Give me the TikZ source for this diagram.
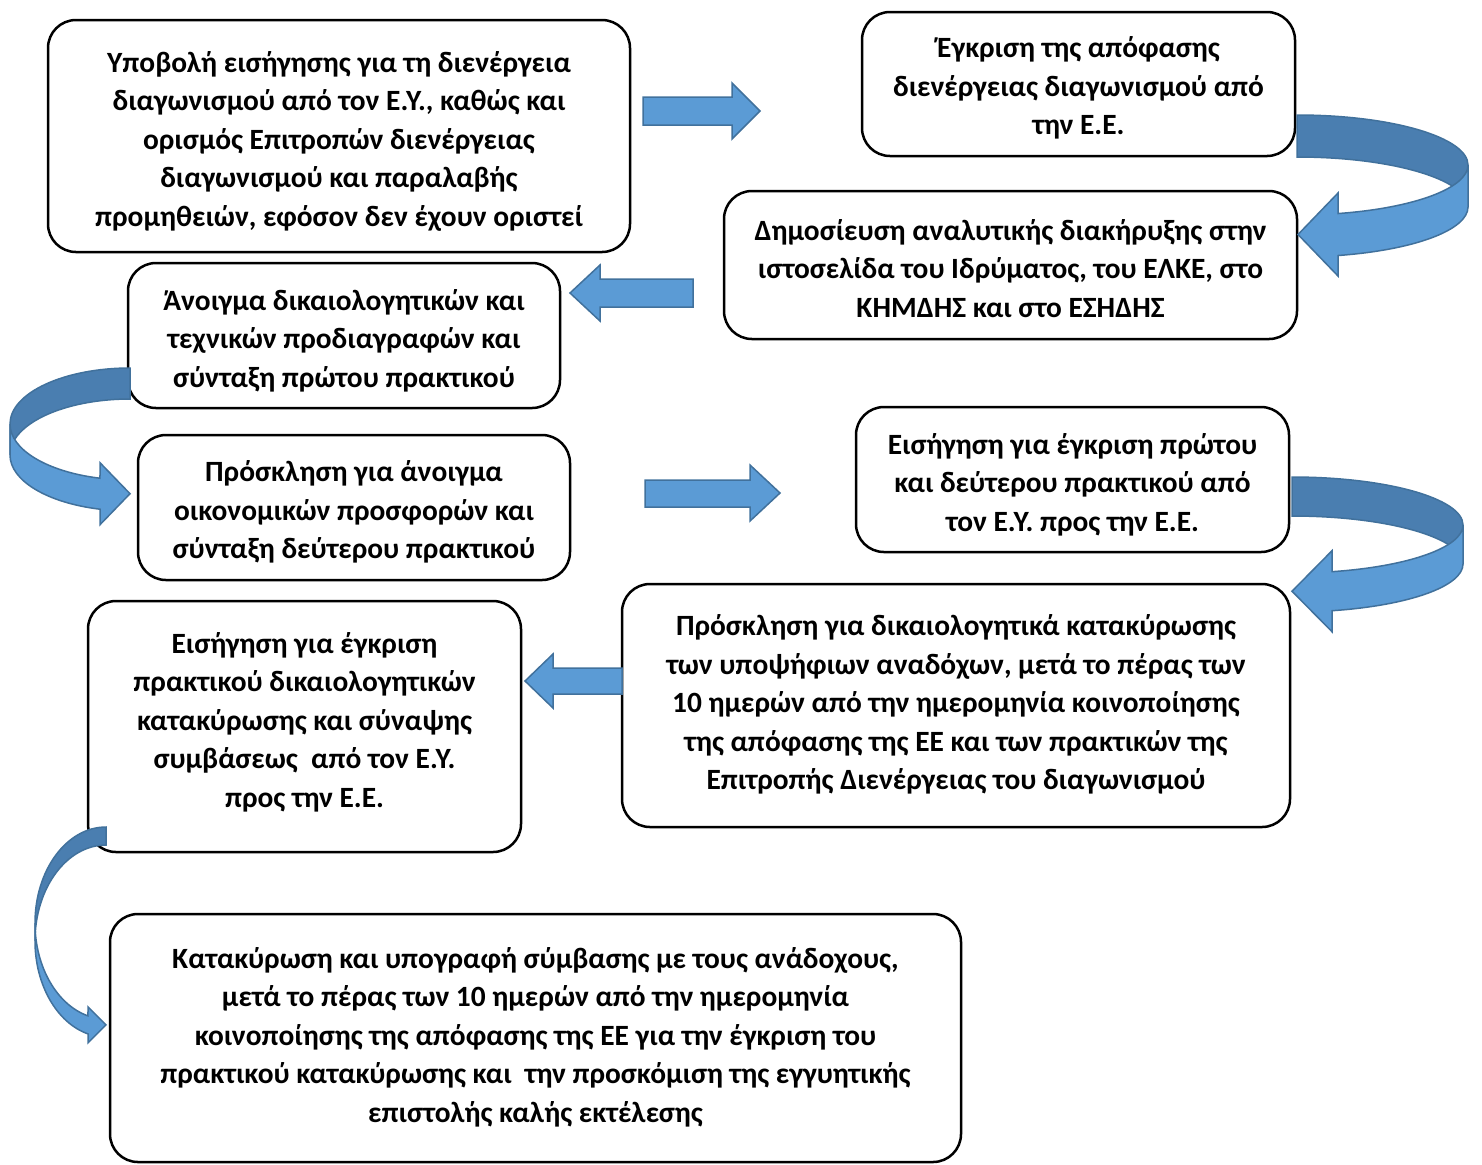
\documentclass[tikz,border=0pt]{standalone}
\usepackage{fontspec}
\setmainfont{Carlito}
\begin{document}
\begin{tikzpicture}[x=0.5pt,y=-0.5pt,
  box/.style={draw, line width=1.25pt, rounded corners=14pt, fill=white, inner sep=0pt},
  txt/.style={align=center, inner sep=0pt, font=\fontsize{14.7}{19.25}\selectfont\bfseries},
  barrow/.style={fill=arrowlight, draw=arrowline, line width=0.75pt, line join=miter},
  backface/.style={fill=arrowdark, draw=arrowline, line width=0.75pt},
  frontface/.style={fill=arrowlight, draw=arrowline, line width=0.75pt, line join=miter}]
\definecolor{arrowlight}{HTML}{5B9BD5}
\definecolor{arrowdark}{HTML}{4A7EB0}
\definecolor{arrowline}{HTML}{41719C}
\useasboundingbox (0,0) rectangle (1482,1164);

% process steps (frames)
\node[box, minimum width=291pt, minimum height=116pt] (submit) at (339,136) {};
\node[box, minimum width=216.5pt, minimum height=72pt] (approve) at (1078.5,84) {};
\node[box, minimum width=286.5pt, minimum height=74pt] (publish) at (1010.5,265) {};
\node[box, minimum width=216pt, minimum height=72.5pt] (open) at (344,335.5) {};
\node[box, minimum width=216pt, minimum height=72.5pt] (offers) at (354,507.5) {};
\node[box, minimum width=216.5pt, minimum height=72.5pt] (minutes) at (1072.5,479.5) {};
\node[box, minimum width=334pt, minimum height=121.5pt] (docs) at (956,705.5) {};
\node[box, minimum width=216.5pt, minimum height=125.5pt] (award) at (304.5,726.5) {};
\node[box, minimum width=425.5pt, minimum height=124pt] (sign) at (535.5,1038) {};

% process steps (texts)
\node[txt] (submit-t) at ([shift={(0,5)}]submit.center)
  {Υποβολή εισήγησης για τη διενέργεια\\διαγωνισμού από τον Ε.Υ., καθώς και\\ορισμός Επιτροπών διενέργειας\\διαγωνισμού και παραλαβής\\προμηθειών, εφόσον δεν έχουν οριστεί};
\node[txt] (approve-t) at ([shift={(0,4)}]approve.center)
  {Έγκριση της απόφασης\\διενέργειας διαγωνισμού από\\την Ε.Ε.};
\node[txt] (publish-t) at ([shift={(0,3.5)}]publish.center)
  {Δημοσίευση αναλυτικής διακήρυξης στην\\ιστοσελίδα του Ιδρύματος, του ΕΛΚΕ, στο\\ΚΗΜΔΗΣ και στο ΕΣΗΔΗΣ};
\node[txt] (open-t) at ([shift={(0,5)}]open.center)
  {Άνοιγμα δικαιολογητικών και\\τεχνικών προδιαγραφών και\\σύνταξη πρώτου πρακτικού};
\node[txt] (offers-t) at ([shift={(0,4.5)}]offers.center)
  {Πρόσκληση για άνοιγμα\\οικονομικών προσφορών και\\σύνταξη δεύτερου πρακτικού};
\node[txt] (minutes-t) at ([shift={(0,5)}]minutes.center)
  {Εισήγηση για έγκριση πρώτου\\και δεύτερου πρακτικού από\\τον Ε.Υ. προς την Ε.Ε.};
\node[txt] (docs-t) at ([shift={(0,-1)}]docs.center)
  {Πρόσκληση για δικαιολογητικά κατακύρωσης\\των υποψήφιων αναδόχων, μετά το πέρας των\\10 ημερών από την ημερομηνία κοινοποίησης\\της απόφασης της ΕΕ και των πρακτικών της\\Επιτροπής Διενέργειας του διαγωνισμού};
\node[txt] (award-t) at ([shift={(0,-4.5)}]award.center)
  {Εισήγηση για έγκριση\\πρακτικού δικαιολογητικών\\κατακύρωσης και σύναψης\\συμβάσεως\ \ από τον Ε.Υ.\\προς την Ε.Ε.};
\node[txt] (sign-t) at ([shift={(0,-1)}]sign.center)
  {Κατακύρωση και υπογραφή σύμβασης με τους ανάδοχους,\\μετά το πέρας των 10 ημερών από την ημερομηνία\\κοινοποίησης της απόφασης της ΕΕ για την έγκριση του\\πρακτικού κατακύρωσης και\ \ την προσκόμιση της εγγυητικής\\επιστολής καλής εκτέλεσης};

% straight block arrows
\draw[barrow] (643,97) -- (732,97) -- (732,83) -- (760,111) -- (732,139) -- (732,125) -- (643,125) -- cycle;
\draw[barrow] (693,279) -- (600,279) -- (600,265) -- (570,293) -- (600,321) -- (600,307) -- (693,307) -- cycle;
\draw[barrow] (645,480) -- (750,480) -- (750,465) -- (780,493) -- (750,521) -- (750,507) -- (645,507) -- cycle;
\draw[barrow] (622,668) -- (553,668) -- (553,654) -- (525,681) -- (553,708) -- (553,694) -- (622,694) -- cycle;

% curved ribbon arrow: approval -> publication
\draw[backface] (1297,115) arc[start angle=-90, end angle=0, x radius=171, y radius=50]
  -- (1468,207) arc[start angle=0, end angle=-90, x radius=171, y radius=50] -- cycle;
\draw[frontface] (1468,165) arc[start angle=0, end angle=76.13, x radius=171, y radius=50]
  -- (1338,193) -- (1298,234.5) -- (1338,276) -- (1338,255.5)
  arc[start angle=76.13, end angle=0, x radius=171, y radius=50] -- cycle;

% curved ribbon arrow: first minutes -> financial offers
\draw[backface] (130,368) arc[start angle=-90, end angle=-180, x radius=120, y radius=56]
  -- (10,455) arc[start angle=-180, end angle=-90, x radius=120, y radius=56] -- cycle;
\draw[frontface] (10,424) arc[start angle=180, end angle=104.48, x radius=120, y radius=56]
  -- (100,462.7) -- (130,493.7) -- (100,524.7) -- (100,509.2)
  arc[start angle=104.48, end angle=180, x radius=120, y radius=56] -- cycle;

% curved ribbon arrow: minutes approval -> documents
\draw[backface] (1292,477) arc[start angle=-90, end angle=0, x radius=171, y radius=48]
  -- (1463,564) arc[start angle=0, end angle=-90, x radius=171, y radius=48] -- cycle;
\draw[frontface] (1463,525) arc[start angle=0, end angle=76.47, x radius=171, y radius=48]
  -- (1332,550.7) -- (1292,591.2) -- (1332,631.7) -- (1332,610.7)
  arc[start angle=76.47, end angle=0, x radius=171, y radius=48] -- cycle;

% curved ribbon arrow: award proposal -> contract
\draw[backface] (106,827) arc[start angle=-90, end angle=-180, x radius=71, y radius=96]
  -- (35,941) arc[start angle=-180, end angle=-90, x radius=71, y radius=96] -- cycle;
\draw[frontface] (35,923) arc[start angle=180, end angle=104.69, x radius=71, y radius=96]
  -- (88,1006.9) -- (106,1024.9) -- (88,1042.9) -- (88,1033.9)
  arc[start angle=104.69, end angle=180, x radius=71, y radius=96] -- cycle;
\end{tikzpicture}
\end{document}
